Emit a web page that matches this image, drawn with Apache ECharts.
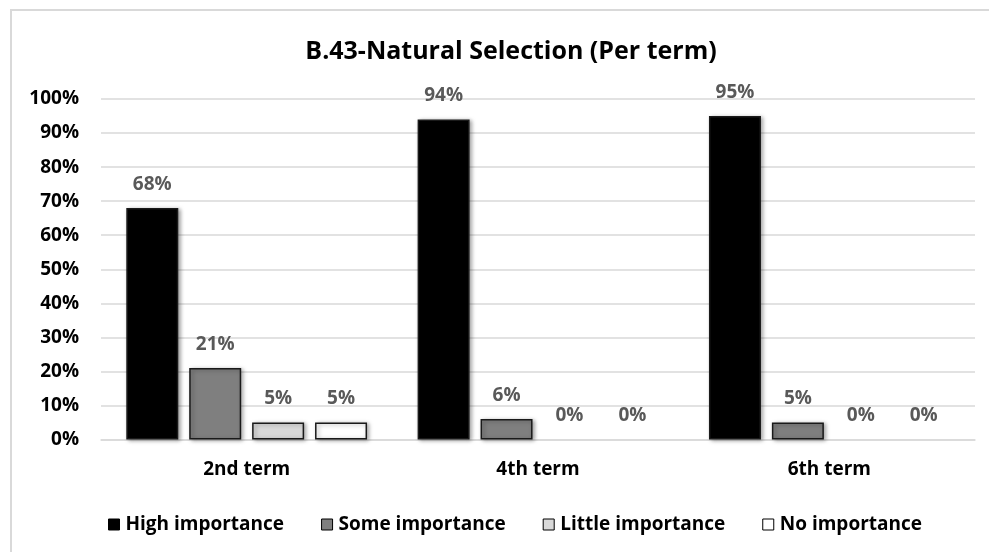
<!DOCTYPE html>
<html>
<head>
<meta charset="utf-8">
<script src="https://cdn.jsdelivr.net/npm/echarts@6/dist/echarts.min.js"></script>
<style>
html,body{margin:0;padding:0;background:#fff;}
#frame{position:absolute;left:10px;top:9px;width:1000px;height:600px;border-left:2px solid #d9d9d9;border-top:2px solid #d9d9d9;}
#chart{position:absolute;left:0;top:0;width:989px;height:552px;}
</style>
</head>
<body>
<div id="frame"></div>
<div id="chart"></div>
<script>
var categories = ['2nd term', '4th term', '6th term'];
var seriesNames = ['High importance', 'Some importance', 'Little importance', 'No importance'];
var highImportance = [68, 94, 95];
var someImportance = [21, 6, 5];
var littleImportance = [5, 0, 0];
var noImportance = [5, 0, 0];
var yTicks = [0, 10, 20, 30, 40, 50, 60, 70, 80, 90, 100];
var colors = ['#000000', '#7f7f7f', '#d9d9d9', '#ffffff'];

var font = '"Open Sans", "Liberation Sans", sans-serif';
var dataSets = [highImportance, someImportance, littleImportance, noImportance];

var chart = echarts.init(document.getElementById('chart'), null, {renderer: 'canvas'});
var series = dataSets.map(function (d, i) {
  return {
    name: seriesNames[i],
    type: 'bar',
    data: d.map(function (v) {
      return v === 0 ? {value: v, itemStyle: {borderWidth: 0, shadowBlur: 0, shadowOffsetX: 0, shadowOffsetY: 0, shadowColor: 'transparent'}} : v;
    }),
    barWidth: 52,
    barGap: '21%',
    itemStyle: {
      color: colors[i],
      borderColor: '#1a1a1a',
      borderWidth: 1.5,
      shadowColor: 'rgba(0,0,0,0.35)',
      shadowBlur: 4,
      shadowOffsetX: 2,
      shadowOffsetY: 1
    },
    label: {
      show: true,
      position: 'top',
      distance: 14,
      formatter: '{c}%',
      color: '#595959',
      fontFamily: font,
      fontWeight: 'bold',
      fontSize: 19
    }
  };
});

chart.setOption({
  animation: false,
  backgroundColor: 'transparent',
  title: {
    text: 'B.43-Natural Selection (Per term)',
    left: 506,
    textAlign: 'center',
    top: 34,
    textStyle: {fontFamily: font, fontWeight: 'bold', fontSize: 25, color: '#000'}
  },
  legend: {
    data: seriesNames,
    left: 103,
    top: 510,
    itemWidth: 11,
    itemHeight: 11,
    itemGap: 37,
    icon: 'rect',
    itemStyle: {borderColor: '#000', borderWidth: 1},
    textStyle: {fontFamily: font, fontWeight: 'bold', fontSize: 19, color: '#000', padding: [0, 0, 0, 1]}
  },
  grid: {left: 101, right: 14, top: 99, bottom: 112.5, containLabel: false},
  xAxis: {
    type: 'category',
    data: categories,
    axisLine: {show: true, lineStyle: {color: '#d9d9d9', width: 1.5}},
    axisTick: {show: false},
    axisLabel: {margin: 21, fontFamily: font, fontWeight: 'bold', fontSize: 19, color: '#000'}
  },
  yAxis: {
    type: 'value',
    min: yTicks[0],
    max: yTicks[yTicks.length - 1],
    interval: 10,
    axisLine: {show: false},
    axisTick: {show: false},
    splitLine: {lineStyle: {color: '#d9d9d9', width: 1.5}},
    axisLabel: {margin: 22, formatter: '{value}%', fontFamily: font, fontWeight: 'bold', fontSize: 19, color: '#000'}
  },
  series: series
});
</script>
</body>
</html>
